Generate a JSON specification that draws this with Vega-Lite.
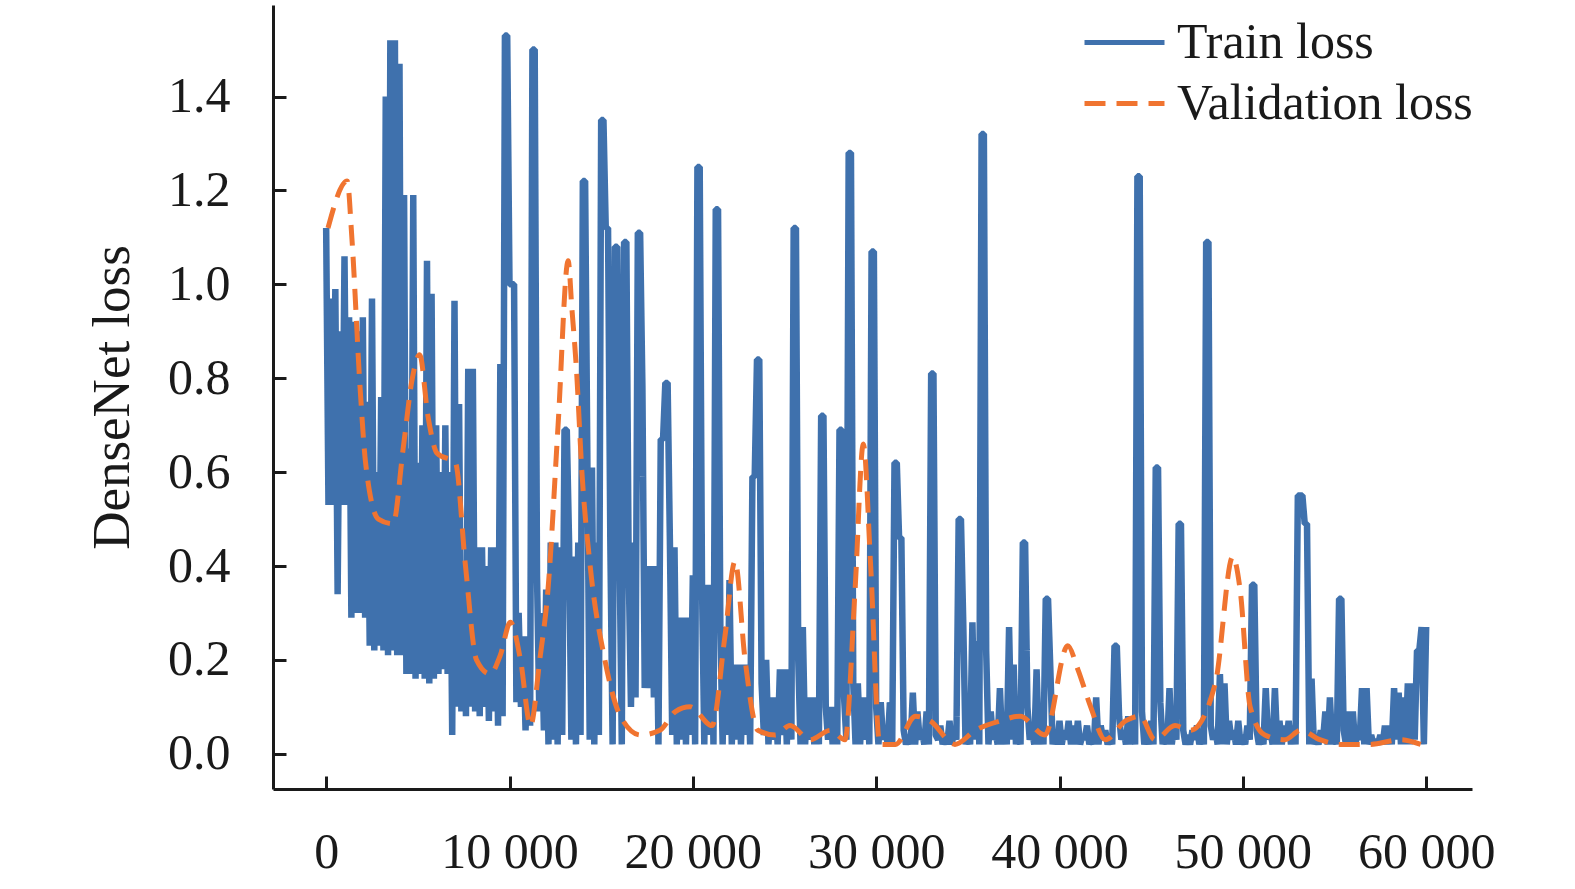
{
  "$schema": "https://vega.github.io/schema/vega-lite/v6.json",
  "description": "DenseNet train / validation loss against iteration",
  "autosize": "none",
  "width": 1199,
  "height": 784,
  "padding": {"left": 273, "top": 5, "right": 103, "bottom": 100},
  "background": "white",
  "data": {
    "values": [
      {"step":0,"loss":1.12,"series":"Train loss"},{"step":125,"loss":0.53,"series":"Train loss"},
      {"step":250,"loss":0.97,"series":"Train loss"},{"step":375,"loss":0.53,"series":"Train loss"},
      {"step":500,"loss":0.99,"series":"Train loss"},{"step":625,"loss":0.34,"series":"Train loss"},
      {"step":750,"loss":0.90,"series":"Train loss"},{"step":875,"loss":0.53,"series":"Train loss"},
      {"step":1000,"loss":1.06,"series":"Train loss"},{"step":1125,"loss":0.53,"series":"Train loss"},
      {"step":1250,"loss":0.93,"series":"Train loss"},{"step":1375,"loss":0.29,"series":"Train loss"},
      {"step":1500,"loss":0.92,"series":"Train loss"},{"step":1625,"loss":0.30,"series":"Train loss"},
      {"step":1750,"loss":0.90,"series":"Train loss"},{"step":1875,"loss":0.30,"series":"Train loss"},
      {"step":2000,"loss":0.93,"series":"Train loss"},{"step":2125,"loss":0.29,"series":"Train loss"},
      {"step":2250,"loss":0.75,"series":"Train loss"},{"step":2375,"loss":0.23,"series":"Train loss"},
      {"step":2500,"loss":0.97,"series":"Train loss"},{"step":2625,"loss":0.22,"series":"Train loss"},
      {"step":2750,"loss":0.60,"series":"Train loss"},{"step":2875,"loss":0.23,"series":"Train loss"},
      {"step":3000,"loss":0.76,"series":"Train loss"},{"step":3125,"loss":0.22,"series":"Train loss"},
      {"step":3250,"loss":1.40,"series":"Train loss"},{"step":3375,"loss":0.21,"series":"Train loss"},
      {"step":3500,"loss":1.52,"series":"Train loss"},{"step":3625,"loss":0.22,"series":"Train loss"},
      {"step":3750,"loss":1.52,"series":"Train loss"},{"step":3875,"loss":0.21,"series":"Train loss"},
      {"step":4000,"loss":1.47,"series":"Train loss"},{"step":4125,"loss":0.21,"series":"Train loss"},
      {"step":4250,"loss":1.19,"series":"Train loss"},{"step":4375,"loss":0.17,"series":"Train loss"},
      {"step":4500,"loss":0.65,"series":"Train loss"},{"step":4625,"loss":0.17,"series":"Train loss"},
      {"step":4750,"loss":1.19,"series":"Train loss"},{"step":4875,"loss":0.16,"series":"Train loss"},
      {"step":5000,"loss":0.62,"series":"Train loss"},{"step":5125,"loss":0.17,"series":"Train loss"},
      {"step":5250,"loss":0.70,"series":"Train loss"},{"step":5375,"loss":0.16,"series":"Train loss"},
      {"step":5500,"loss":1.05,"series":"Train loss"},{"step":5625,"loss":0.15,"series":"Train loss"},
      {"step":5750,"loss":0.98,"series":"Train loss"},{"step":5875,"loss":0.16,"series":"Train loss"},
      {"step":6000,"loss":0.70,"series":"Train loss"},{"step":6125,"loss":0.17,"series":"Train loss"},
      {"step":6250,"loss":0.60,"series":"Train loss"},{"step":6375,"loss":0.18,"series":"Train loss"},
      {"step":6500,"loss":0.70,"series":"Train loss"},{"step":6625,"loss":0.17,"series":"Train loss"},
      {"step":6750,"loss":0.60,"series":"Train loss"},{"step":6875,"loss":0.04,"series":"Train loss"},
      {"step":7000,"loss":0.965,"series":"Train loss"},{"step":7125,"loss":0.10,"series":"Train loss"},
      {"step":7250,"loss":0.745,"series":"Train loss"},{"step":7375,"loss":0.09,"series":"Train loss"},
      {"step":7500,"loss":0.40,"series":"Train loss"},{"step":7625,"loss":0.08,"series":"Train loss"},
      {"step":7750,"loss":0.82,"series":"Train loss"},{"step":7875,"loss":0.10,"series":"Train loss"},
      {"step":8000,"loss":0.82,"series":"Train loss"},{"step":8125,"loss":0.09,"series":"Train loss"},
      {"step":8250,"loss":0.44,"series":"Train loss"},{"step":8375,"loss":0.08,"series":"Train loss"},
      {"step":8500,"loss":0.44,"series":"Train loss"},{"step":8625,"loss":0.10,"series":"Train loss"},
      {"step":8750,"loss":0.40,"series":"Train loss"},{"step":8875,"loss":0.07,"series":"Train loss"},
      {"step":9000,"loss":0.44,"series":"Train loss"},{"step":9125,"loss":0.09,"series":"Train loss"},
      {"step":9250,"loss":0.44,"series":"Train loss"},{"step":9375,"loss":0.06,"series":"Train loss"},
      {"step":9500,"loss":0.83,"series":"Train loss"},{"step":9625,"loss":0.08,"series":"Train loss"},
      {"step":9750,"loss":1.53,"series":"Train loss"},{"step":9875,"loss":1.53,"series":"Train loss"},
      {"step":10000,"loss":1.00,"series":"Train loss"},{"step":10125,"loss":1.00,"series":"Train loss"},
      {"step":10250,"loss":1.00,"series":"Train loss"},{"step":10375,"loss":0.11,"series":"Train loss"},
      {"step":10500,"loss":0.30,"series":"Train loss"},{"step":10625,"loss":0.10,"series":"Train loss"},
      {"step":10750,"loss":0.25,"series":"Train loss"},{"step":10875,"loss":0.05,"series":"Train loss"},
      {"step":11000,"loss":0.25,"series":"Train loss"},{"step":11125,"loss":0.06,"series":"Train loss"},
      {"step":11250,"loss":1.50,"series":"Train loss"},{"step":11375,"loss":1.50,"series":"Train loss"},
      {"step":11500,"loss":0.38,"series":"Train loss"},{"step":11625,"loss":0.09,"series":"Train loss"},
      {"step":11750,"loss":0.30,"series":"Train loss"},{"step":11875,"loss":0.05,"series":"Train loss"},
      {"step":12000,"loss":0.35,"series":"Train loss"},{"step":12125,"loss":0.02,"series":"Train loss"},
      {"step":12250,"loss":0.45,"series":"Train loss"},{"step":12375,"loss":0.03,"series":"Train loss"},
      {"step":12500,"loss":0.45,"series":"Train loss"},{"step":12625,"loss":0.02,"series":"Train loss"},
      {"step":12750,"loss":0.44,"series":"Train loss"},{"step":12875,"loss":0.04,"series":"Train loss"},
      {"step":13000,"loss":0.69,"series":"Train loss"},{"step":13125,"loss":0.69,"series":"Train loss"},
      {"step":13250,"loss":0.45,"series":"Train loss"},{"step":13375,"loss":0.03,"series":"Train loss"},
      {"step":13500,"loss":0.42,"series":"Train loss"},{"step":13625,"loss":0.02,"series":"Train loss"},
      {"step":13750,"loss":0.45,"series":"Train loss"},{"step":13875,"loss":0.04,"series":"Train loss"},
      {"step":14000,"loss":1.22,"series":"Train loss"},{"step":14125,"loss":1.22,"series":"Train loss"},
      {"step":14250,"loss":0.61,"series":"Train loss"},{"step":14375,"loss":0.03,"series":"Train loss"},
      {"step":14500,"loss":0.61,"series":"Train loss"},{"step":14625,"loss":0.02,"series":"Train loss"},
      {"step":14750,"loss":0.45,"series":"Train loss"},{"step":14875,"loss":0.04,"series":"Train loss"},
      {"step":15000,"loss":1.35,"series":"Train loss"},{"step":15125,"loss":1.35,"series":"Train loss"},
      {"step":15250,"loss":1.12,"series":"Train loss"},{"step":15375,"loss":1.12,"series":"Train loss"},
      {"step":15500,"loss":0.45,"series":"Train loss"},{"step":15625,"loss":0.02,"series":"Train loss"},
      {"step":15750,"loss":1.08,"series":"Train loss"},{"step":15875,"loss":1.08,"series":"Train loss"},
      {"step":16000,"loss":0.44,"series":"Train loss"},{"step":16125,"loss":0.02,"series":"Train loss"},
      {"step":16250,"loss":1.09,"series":"Train loss"},{"step":16375,"loss":1.09,"series":"Train loss"},
      {"step":16500,"loss":0.40,"series":"Train loss"},{"step":16625,"loss":0.10,"series":"Train loss"},
      {"step":16750,"loss":0.45,"series":"Train loss"},{"step":16875,"loss":0.12,"series":"Train loss"},
      {"step":17000,"loss":1.11,"series":"Train loss"},{"step":17125,"loss":1.11,"series":"Train loss"},
      {"step":17250,"loss":0.78,"series":"Train loss"},{"step":17375,"loss":0.14,"series":"Train loss"},
      {"step":17500,"loss":0.40,"series":"Train loss"},{"step":17625,"loss":0.14,"series":"Train loss"},
      {"step":17750,"loss":0.40,"series":"Train loss"},{"step":17875,"loss":0.12,"series":"Train loss"},
      {"step":18000,"loss":0.40,"series":"Train loss"},{"step":18125,"loss":0.02,"series":"Train loss"},
      {"step":18250,"loss":0.67,"series":"Train loss"},{"step":18375,"loss":0.67,"series":"Train loss"},
      {"step":18500,"loss":0.79,"series":"Train loss"},{"step":18625,"loss":0.79,"series":"Train loss"},
      {"step":18750,"loss":0.45,"series":"Train loss"},{"step":18875,"loss":0.04,"series":"Train loss"},
      {"step":19000,"loss":0.44,"series":"Train loss"},{"step":19125,"loss":0.02,"series":"Train loss"},
      {"step":19250,"loss":0.29,"series":"Train loss"},{"step":19375,"loss":0.03,"series":"Train loss"},
      {"step":19500,"loss":0.29,"series":"Train loss"},{"step":19625,"loss":0.02,"series":"Train loss"},
      {"step":19750,"loss":0.29,"series":"Train loss"},{"step":19875,"loss":0.04,"series":"Train loss"},
      {"step":20000,"loss":0.38,"series":"Train loss"},{"step":20125,"loss":0.02,"series":"Train loss"},
      {"step":20250,"loss":1.25,"series":"Train loss"},{"step":20375,"loss":1.25,"series":"Train loss"},
      {"step":20500,"loss":0.36,"series":"Train loss"},{"step":20625,"loss":0.02,"series":"Train loss"},
      {"step":20750,"loss":0.36,"series":"Train loss"},{"step":20875,"loss":0.04,"series":"Train loss"},
      {"step":21000,"loss":0.36,"series":"Train loss"},{"step":21125,"loss":0.02,"series":"Train loss"},
      {"step":21250,"loss":1.16,"series":"Train loss"},{"step":21375,"loss":1.16,"series":"Train loss"},
      {"step":21500,"loss":0.27,"series":"Train loss"},{"step":21625,"loss":0.02,"series":"Train loss"},
      {"step":21750,"loss":0.27,"series":"Train loss"},{"step":21875,"loss":0.04,"series":"Train loss"},
      {"step":22000,"loss":0.37,"series":"Train loss"},{"step":22125,"loss":0.02,"series":"Train loss"},
      {"step":22250,"loss":0.19,"series":"Train loss"},{"step":22375,"loss":0.03,"series":"Train loss"},
      {"step":22500,"loss":0.19,"series":"Train loss"},{"step":22625,"loss":0.02,"series":"Train loss"},
      {"step":22750,"loss":0.19,"series":"Train loss"},{"step":22875,"loss":0.04,"series":"Train loss"},
      {"step":23000,"loss":0.19,"series":"Train loss"},{"step":23125,"loss":0.02,"series":"Train loss"},
      {"step":23250,"loss":0.59,"series":"Train loss"},{"step":23375,"loss":0.59,"series":"Train loss"},
      {"step":23500,"loss":0.84,"series":"Train loss"},{"step":23625,"loss":0.84,"series":"Train loss"},
      {"step":23750,"loss":0.15,"series":"Train loss"},{"step":23875,"loss":0.04,"series":"Train loss"},
      {"step":24000,"loss":0.20,"series":"Train loss"},{"step":24125,"loss":0.02,"series":"Train loss"},
      {"step":24250,"loss":0.12,"series":"Train loss"},{"step":24375,"loss":0.03,"series":"Train loss"},
      {"step":24500,"loss":0.12,"series":"Train loss"},{"step":24625,"loss":0.02,"series":"Train loss"},
      {"step":24750,"loss":0.18,"series":"Train loss"},{"step":24875,"loss":0.04,"series":"Train loss"},
      {"step":25000,"loss":0.18,"series":"Train loss"},{"step":25125,"loss":0.02,"series":"Train loss"},
      {"step":25250,"loss":0.18,"series":"Train loss"},{"step":25375,"loss":0.03,"series":"Train loss"},
      {"step":25500,"loss":1.12,"series":"Train loss"},{"step":25625,"loss":1.12,"series":"Train loss"},
      {"step":25750,"loss":0.20,"series":"Train loss"},{"step":25875,"loss":0.02,"series":"Train loss"},
      {"step":26000,"loss":0.27,"series":"Train loss"},{"step":26125,"loss":0.02,"series":"Train loss"},
      {"step":26250,"loss":0.12,"series":"Train loss"},{"step":26375,"loss":0.03,"series":"Train loss"},
      {"step":26500,"loss":0.12,"series":"Train loss"},{"step":26625,"loss":0.02,"series":"Train loss"},
      {"step":26750,"loss":0.12,"series":"Train loss"},{"step":26875,"loss":0.02,"series":"Train loss"},
      {"step":27000,"loss":0.72,"series":"Train loss"},{"step":27125,"loss":0.72,"series":"Train loss"},
      {"step":27250,"loss":0.10,"series":"Train loss"},{"step":27375,"loss":0.03,"series":"Train loss"},
      {"step":27500,"loss":0.10,"series":"Train loss"},{"step":27625,"loss":0.02,"series":"Train loss"},
      {"step":27750,"loss":0.10,"series":"Train loss"},{"step":27875,"loss":0.02,"series":"Train loss"},
      {"step":28000,"loss":0.69,"series":"Train loss"},{"step":28125,"loss":0.69,"series":"Train loss"},
      {"step":28250,"loss":0.12,"series":"Train loss"},{"step":28375,"loss":0.03,"series":"Train loss"},
      {"step":28500,"loss":1.28,"series":"Train loss"},{"step":28625,"loss":1.28,"series":"Train loss"},
      {"step":28750,"loss":0.15,"series":"Train loss"},{"step":28875,"loss":0.02,"series":"Train loss"},
      {"step":29000,"loss":0.15,"series":"Train loss"},{"step":29125,"loss":0.02,"series":"Train loss"},
      {"step":29250,"loss":0.12,"series":"Train loss"},{"step":29375,"loss":0.03,"series":"Train loss"},
      {"step":29500,"loss":0.12,"series":"Train loss"},{"step":29625,"loss":0.02,"series":"Train loss"},
      {"step":29750,"loss":1.07,"series":"Train loss"},{"step":29875,"loss":1.07,"series":"Train loss"},
      {"step":30000,"loss":0.10,"series":"Train loss"},{"step":30125,"loss":0.02,"series":"Train loss"},
      {"step":30250,"loss":0.11,"series":"Train loss"},{"step":30375,"loss":0.03,"series":"Train loss"},
      {"step":30500,"loss":0.06,"series":"Train loss"},{"step":30625,"loss":0.02,"series":"Train loss"},
      {"step":30750,"loss":0.11,"series":"Train loss"},{"step":30875,"loss":0.02,"series":"Train loss"},
      {"step":31000,"loss":0.62,"series":"Train loss"},{"step":31125,"loss":0.62,"series":"Train loss"},
      {"step":31250,"loss":0.46,"series":"Train loss"},{"step":31375,"loss":0.46,"series":"Train loss"},
      {"step":31500,"loss":0.05,"series":"Train loss"},{"step":31625,"loss":0.02,"series":"Train loss"},
      {"step":31750,"loss":0.04,"series":"Train loss"},{"step":31875,"loss":0.02,"series":"Train loss"},
      {"step":32000,"loss":0.13,"series":"Train loss"},{"step":32125,"loss":0.02,"series":"Train loss"},
      {"step":32250,"loss":0.09,"series":"Train loss"},{"step":32375,"loss":0.03,"series":"Train loss"},
      {"step":32500,"loss":0.05,"series":"Train loss"},{"step":32625,"loss":0.02,"series":"Train loss"},
      {"step":32750,"loss":0.09,"series":"Train loss"},{"step":32875,"loss":0.02,"series":"Train loss"},
      {"step":33000,"loss":0.81,"series":"Train loss"},{"step":33125,"loss":0.81,"series":"Train loss"},
      {"step":33250,"loss":0.04,"series":"Train loss"},{"step":33375,"loss":0.03,"series":"Train loss"},
      {"step":33500,"loss":0.06,"series":"Train loss"},{"step":33625,"loss":0.02,"series":"Train loss"},
      {"step":33750,"loss":0.04,"series":"Train loss"},{"step":33875,"loss":0.02,"series":"Train loss"},
      {"step":34000,"loss":0.07,"series":"Train loss"},{"step":34125,"loss":0.02,"series":"Train loss"},
      {"step":34250,"loss":0.05,"series":"Train loss"},{"step":34375,"loss":0.03,"series":"Train loss"},
      {"step":34500,"loss":0.50,"series":"Train loss"},{"step":34625,"loss":0.50,"series":"Train loss"},
      {"step":34750,"loss":0.28,"series":"Train loss"},{"step":34875,"loss":0.02,"series":"Train loss"},
      {"step":35000,"loss":0.05,"series":"Train loss"},{"step":35125,"loss":0.02,"series":"Train loss"},
      {"step":35250,"loss":0.28,"series":"Train loss"},{"step":35375,"loss":0.03,"series":"Train loss"},
      {"step":35500,"loss":0.24,"series":"Train loss"},{"step":35625,"loss":0.02,"series":"Train loss"},
      {"step":35750,"loss":1.32,"series":"Train loss"},{"step":35875,"loss":1.32,"series":"Train loss"},
      {"step":36000,"loss":0.22,"series":"Train loss"},{"step":36125,"loss":0.02,"series":"Train loss"},
      {"step":36250,"loss":0.09,"series":"Train loss"},{"step":36375,"loss":0.03,"series":"Train loss"},
      {"step":36500,"loss":0.05,"series":"Train loss"},{"step":36625,"loss":0.02,"series":"Train loss"},
      {"step":36750,"loss":0.14,"series":"Train loss"},{"step":36875,"loss":0.02,"series":"Train loss"},
      {"step":37000,"loss":0.06,"series":"Train loss"},{"step":37125,"loss":0.02,"series":"Train loss"},
      {"step":37250,"loss":0.27,"series":"Train loss"},{"step":37375,"loss":0.03,"series":"Train loss"},
      {"step":37500,"loss":0.19,"series":"Train loss"},{"step":37625,"loss":0.02,"series":"Train loss"},
      {"step":37750,"loss":0.05,"series":"Train loss"},{"step":37875,"loss":0.02,"series":"Train loss"},
      {"step":38000,"loss":0.45,"series":"Train loss"},{"step":38125,"loss":0.45,"series":"Train loss"},
      {"step":38250,"loss":0.10,"series":"Train loss"},{"step":38375,"loss":0.03,"series":"Train loss"},
      {"step":38500,"loss":0.05,"series":"Train loss"},{"step":38625,"loss":0.02,"series":"Train loss"},
      {"step":38750,"loss":0.18,"series":"Train loss"},{"step":38875,"loss":0.02,"series":"Train loss"},
      {"step":39000,"loss":0.07,"series":"Train loss"},{"step":39125,"loss":0.02,"series":"Train loss"},
      {"step":39250,"loss":0.33,"series":"Train loss"},{"step":39375,"loss":0.33,"series":"Train loss"},
      {"step":39500,"loss":0.18,"series":"Train loss"},{"step":39625,"loss":0.02,"series":"Train loss"},
      {"step":39750,"loss":0.05,"series":"Train loss"},{"step":39875,"loss":0.02,"series":"Train loss"},
      {"step":40000,"loss":0.07,"series":"Train loss"},{"step":40125,"loss":0.02,"series":"Train loss"},
      {"step":40250,"loss":0.05,"series":"Train loss"},{"step":40375,"loss":0.03,"series":"Train loss"},
      {"step":40500,"loss":0.07,"series":"Train loss"},{"step":40625,"loss":0.02,"series":"Train loss"},
      {"step":40750,"loss":0.06,"series":"Train loss"},{"step":40875,"loss":0.02,"series":"Train loss"},
      {"step":41000,"loss":0.07,"series":"Train loss"},{"step":41125,"loss":0.02,"series":"Train loss"},
      {"step":41250,"loss":0.04,"series":"Train loss"},{"step":41375,"loss":0.03,"series":"Train loss"},
      {"step":41500,"loss":0.06,"series":"Train loss"},{"step":41625,"loss":0.02,"series":"Train loss"},
      {"step":41750,"loss":0.04,"series":"Train loss"},{"step":41875,"loss":0.02,"series":"Train loss"},
      {"step":42000,"loss":0.12,"series":"Train loss"},{"step":42125,"loss":0.02,"series":"Train loss"},
      {"step":42250,"loss":0.06,"series":"Train loss"},{"step":42375,"loss":0.03,"series":"Train loss"},
      {"step":42500,"loss":0.05,"series":"Train loss"},{"step":42625,"loss":0.02,"series":"Train loss"},
      {"step":42750,"loss":0.04,"series":"Train loss"},{"step":42875,"loss":0.02,"series":"Train loss"},
      {"step":43000,"loss":0.23,"series":"Train loss"},{"step":43125,"loss":0.23,"series":"Train loss"},
      {"step":43250,"loss":0.08,"series":"Train loss"},{"step":43375,"loss":0.03,"series":"Train loss"},
      {"step":43500,"loss":0.05,"series":"Train loss"},{"step":43625,"loss":0.02,"series":"Train loss"},
      {"step":43750,"loss":0.08,"series":"Train loss"},{"step":43875,"loss":0.02,"series":"Train loss"},
      {"step":44000,"loss":0.06,"series":"Train loss"},{"step":44125,"loss":0.02,"series":"Train loss"},
      {"step":44250,"loss":1.23,"series":"Train loss"},{"step":44375,"loss":1.23,"series":"Train loss"},
      {"step":44500,"loss":0.09,"series":"Train loss"},{"step":44625,"loss":0.02,"series":"Train loss"},
      {"step":44750,"loss":0.05,"series":"Train loss"},{"step":44875,"loss":0.02,"series":"Train loss"},
      {"step":45000,"loss":0.07,"series":"Train loss"},{"step":45125,"loss":0.02,"series":"Train loss"},
      {"step":45250,"loss":0.61,"series":"Train loss"},{"step":45375,"loss":0.61,"series":"Train loss"},
      {"step":45500,"loss":0.11,"series":"Train loss"},{"step":45625,"loss":0.02,"series":"Train loss"},
      {"step":45750,"loss":0.05,"series":"Train loss"},{"step":45875,"loss":0.02,"series":"Train loss"},
      {"step":46000,"loss":0.14,"series":"Train loss"},{"step":46125,"loss":0.02,"series":"Train loss"},
      {"step":46250,"loss":0.06,"series":"Train loss"},{"step":46375,"loss":0.03,"series":"Train loss"},
      {"step":46500,"loss":0.49,"series":"Train loss"},{"step":46625,"loss":0.49,"series":"Train loss"},
      {"step":46750,"loss":0.05,"series":"Train loss"},{"step":46875,"loss":0.02,"series":"Train loss"},
      {"step":47000,"loss":0.04,"series":"Train loss"},{"step":47125,"loss":0.02,"series":"Train loss"},
      {"step":47250,"loss":0.05,"series":"Train loss"},{"step":47375,"loss":0.03,"series":"Train loss"},
      {"step":47500,"loss":0.06,"series":"Train loss"},{"step":47625,"loss":0.02,"series":"Train loss"},
      {"step":47750,"loss":0.05,"series":"Train loss"},{"step":47875,"loss":0.02,"series":"Train loss"},
      {"step":48000,"loss":1.09,"series":"Train loss"},{"step":48125,"loss":1.09,"series":"Train loss"},
      {"step":48250,"loss":0.06,"series":"Train loss"},{"step":48375,"loss":0.03,"series":"Train loss"},
      {"step":48500,"loss":0.05,"series":"Train loss"},{"step":48625,"loss":0.02,"series":"Train loss"},
      {"step":48750,"loss":0.17,"series":"Train loss"},{"step":48875,"loss":0.02,"series":"Train loss"},
      {"step":49000,"loss":0.15,"series":"Train loss"},{"step":49125,"loss":0.02,"series":"Train loss"},
      {"step":49250,"loss":0.07,"series":"Train loss"},{"step":49375,"loss":0.03,"series":"Train loss"},
      {"step":49500,"loss":0.05,"series":"Train loss"},{"step":49625,"loss":0.02,"series":"Train loss"},
      {"step":49750,"loss":0.07,"series":"Train loss"},{"step":49875,"loss":0.02,"series":"Train loss"},
      {"step":50000,"loss":0.04,"series":"Train loss"},{"step":50125,"loss":0.02,"series":"Train loss"},
      {"step":50250,"loss":0.06,"series":"Train loss"},{"step":50375,"loss":0.03,"series":"Train loss"},
      {"step":50500,"loss":0.36,"series":"Train loss"},{"step":50625,"loss":0.36,"series":"Train loss"},
      {"step":50750,"loss":0.05,"series":"Train loss"},{"step":50875,"loss":0.02,"series":"Train loss"},
      {"step":51000,"loss":0.04,"series":"Train loss"},{"step":51125,"loss":0.02,"series":"Train loss"},
      {"step":51250,"loss":0.14,"series":"Train loss"},{"step":51375,"loss":0.03,"series":"Train loss"},
      {"step":51500,"loss":0.05,"series":"Train loss"},{"step":51625,"loss":0.02,"series":"Train loss"},
      {"step":51750,"loss":0.14,"series":"Train loss"},{"step":51875,"loss":0.02,"series":"Train loss"},
      {"step":52000,"loss":0.07,"series":"Train loss"},{"step":52125,"loss":0.02,"series":"Train loss"},
      {"step":52250,"loss":0.06,"series":"Train loss"},{"step":52375,"loss":0.03,"series":"Train loss"},
      {"step":52500,"loss":0.07,"series":"Train loss"},{"step":52625,"loss":0.02,"series":"Train loss"},
      {"step":52750,"loss":0.06,"series":"Train loss"},{"step":52875,"loss":0.02,"series":"Train loss"},
      {"step":53000,"loss":0.55,"series":"Train loss"},{"step":53125,"loss":0.55,"series":"Train loss"},
      {"step":53250,"loss":0.55,"series":"Train loss"},{"step":53375,"loss":0.49,"series":"Train loss"},
      {"step":53500,"loss":0.49,"series":"Train loss"},{"step":53625,"loss":0.02,"series":"Train loss"},
      {"step":53750,"loss":0.16,"series":"Train loss"},{"step":53875,"loss":0.02,"series":"Train loss"},
      {"step":54000,"loss":0.04,"series":"Train loss"},{"step":54125,"loss":0.02,"series":"Train loss"},
      {"step":54250,"loss":0.05,"series":"Train loss"},{"step":54375,"loss":0.03,"series":"Train loss"},
      {"step":54500,"loss":0.09,"series":"Train loss"},{"step":54625,"loss":0.02,"series":"Train loss"},
      {"step":54750,"loss":0.12,"series":"Train loss"},{"step":54875,"loss":0.02,"series":"Train loss"},
      {"step":55000,"loss":0.05,"series":"Train loss"},{"step":55125,"loss":0.02,"series":"Train loss"},
      {"step":55250,"loss":0.33,"series":"Train loss"},{"step":55375,"loss":0.33,"series":"Train loss"},
      {"step":55500,"loss":0.05,"series":"Train loss"},{"step":55625,"loss":0.02,"series":"Train loss"},
      {"step":55750,"loss":0.09,"series":"Train loss"},{"step":55875,"loss":0.02,"series":"Train loss"},
      {"step":56000,"loss":0.09,"series":"Train loss"},{"step":56125,"loss":0.02,"series":"Train loss"},
      {"step":56250,"loss":0.04,"series":"Train loss"},{"step":56375,"loss":0.03,"series":"Train loss"},
      {"step":56500,"loss":0.14,"series":"Train loss"},{"step":56625,"loss":0.02,"series":"Train loss"},
      {"step":56750,"loss":0.14,"series":"Train loss"},{"step":56875,"loss":0.02,"series":"Train loss"},
      {"step":57000,"loss":0.04,"series":"Train loss"},{"step":57125,"loss":0.02,"series":"Train loss"},
      {"step":57250,"loss":0.03,"series":"Train loss"},{"step":57375,"loss":0.02,"series":"Train loss"},
      {"step":57500,"loss":0.04,"series":"Train loss"},{"step":57625,"loss":0.02,"series":"Train loss"},
      {"step":57750,"loss":0.06,"series":"Train loss"},{"step":57875,"loss":0.02,"series":"Train loss"},
      {"step":58000,"loss":0.06,"series":"Train loss"},{"step":58125,"loss":0.02,"series":"Train loss"},
      {"step":58250,"loss":0.14,"series":"Train loss"},{"step":58375,"loss":0.03,"series":"Train loss"},
      {"step":58500,"loss":0.13,"series":"Train loss"},{"step":58625,"loss":0.02,"series":"Train loss"},
      {"step":58750,"loss":0.12,"series":"Train loss"},{"step":58875,"loss":0.02,"series":"Train loss"},
      {"step":59000,"loss":0.15,"series":"Train loss"},{"step":59125,"loss":0.02,"series":"Train loss"},
      {"step":59250,"loss":0.15,"series":"Train loss"},{"step":59375,"loss":0.03,"series":"Train loss"},
      {"step":59500,"loss":0.22,"series":"Train loss"},{"step":59625,"loss":0.22,"series":"Train loss"},
      {"step":59750,"loss":0.27,"series":"Train loss"},{"step":59875,"loss":0.02,"series":"Train loss"},
      {"step":60000,"loss":0.27,"series":"Train loss"},
      {"step":100,"loss":1.12,"series":"Validation loss"},
      {"step":1150,"loss":1.22,"series":"Validation loss"},
      {"step":1400,"loss":1.10,"series":"Validation loss"},
      {"step":1850,"loss":0.78,"series":"Validation loss"},
      {"step":2150,"loss":0.62,"series":"Validation loss"},
      {"step":2850,"loss":0.50,"series":"Validation loss"},
      {"step":3650,"loss":0.49,"series":"Validation loss"},
      {"step":4200,"loss":0.65,"series":"Validation loss"},
      {"step":4700,"loss":0.80,"series":"Validation loss"},
      {"step":5100,"loss":0.85,"series":"Validation loss"},
      {"step":5550,"loss":0.72,"series":"Validation loss"},
      {"step":6050,"loss":0.64,"series":"Validation loss"},
      {"step":7050,"loss":0.62,"series":"Validation loss"},
      {"step":7600,"loss":0.40,"series":"Validation loss"},
      {"step":8200,"loss":0.20,"series":"Validation loss"},
      {"step":8950,"loss":0.17,"series":"Validation loss"},
      {"step":9500,"loss":0.21,"series":"Validation loss"},
      {"step":10050,"loss":0.28,"series":"Validation loss"},
      {"step":10600,"loss":0.20,"series":"Validation loss"},
      {"step":11150,"loss":0.06,"series":"Validation loss"},
      {"step":11650,"loss":0.20,"series":"Validation loss"},
      {"step":12100,"loss":0.35,"series":"Validation loss"},
      {"step":12650,"loss":0.70,"series":"Validation loss"},
      {"step":13200,"loss":1.05,"series":"Validation loss"},
      {"step":13400,"loss":0.95,"series":"Validation loss"},
      {"step":13650,"loss":0.82,"series":"Validation loss"},
      {"step":13950,"loss":0.60,"series":"Validation loss"},
      {"step":14400,"loss":0.40,"series":"Validation loss"},
      {"step":15200,"loss":0.20,"series":"Validation loss"},
      {"step":16050,"loss":0.08,"series":"Validation loss"},
      {"step":17150,"loss":0.04,"series":"Validation loss"},
      {"step":18200,"loss":0.05,"series":"Validation loss"},
      {"step":19050,"loss":0.09,"series":"Validation loss"},
      {"step":19850,"loss":0.10,"series":"Validation loss"},
      {"step":21050,"loss":0.06,"series":"Validation loss"},
      {"step":21750,"loss":0.25,"series":"Validation loss"},
      {"step":22300,"loss":0.41,"series":"Validation loss"},
      {"step":22850,"loss":0.20,"series":"Validation loss"},
      {"step":23550,"loss":0.05,"series":"Validation loss"},
      {"step":24500,"loss":0.04,"series":"Validation loss"},
      {"step":25300,"loss":0.06,"series":"Validation loss"},
      {"step":26400,"loss":0.03,"series":"Validation loss"},
      {"step":27500,"loss":0.05,"series":"Validation loss"},
      {"step":28300,"loss":0.03,"series":"Validation loss"},
      {"step":28850,"loss":0.35,"series":"Validation loss"},
      {"step":29300,"loss":0.66,"series":"Validation loss"},
      {"step":29700,"loss":0.40,"series":"Validation loss"},
      {"step":30200,"loss":0.02,"series":"Validation loss"},
      {"step":31050,"loss":0.02,"series":"Validation loss"},
      {"step":32150,"loss":0.08,"series":"Validation loss"},
      {"step":32950,"loss":0.07,"series":"Validation loss"},
      {"step":34300,"loss":0.02,"series":"Validation loss"},
      {"step":35400,"loss":0.05,"series":"Validation loss"},
      {"step":36750,"loss":0.07,"series":"Validation loss"},
      {"step":37850,"loss":0.08,"series":"Validation loss"},
      {"step":39200,"loss":0.04,"series":"Validation loss"},
      {"step":40450,"loss":0.23,"series":"Validation loss"},
      {"step":41000,"loss":0.18,"series":"Validation loss"},
      {"step":41700,"loss":0.10,"series":"Validation loss"},
      {"step":42500,"loss":0.03,"series":"Validation loss"},
      {"step":43600,"loss":0.07,"series":"Validation loss"},
      {"step":44400,"loss":0.08,"series":"Validation loss"},
      {"step":45200,"loss":0.03,"series":"Validation loss"},
      {"step":46300,"loss":0.06,"series":"Validation loss"},
      {"step":47150,"loss":0.05,"series":"Validation loss"},
      {"step":48500,"loss":0.15,"series":"Validation loss"},
      {"step":49450,"loss":0.42,"series":"Validation loss"},
      {"step":49850,"loss":0.35,"series":"Validation loss"},
      {"step":50400,"loss":0.10,"series":"Validation loss"},
      {"step":51200,"loss":0.04,"series":"Validation loss"},
      {"step":52300,"loss":0.03,"series":"Validation loss"},
      {"step":53150,"loss":0.05,"series":"Validation loss"},
      {"step":54200,"loss":0.03,"series":"Validation loss"},
      {"step":55300,"loss":0.02,"series":"Validation loss"},
      {"step":56950,"loss":0.02,"series":"Validation loss"},
      {"step":58600,"loss":0.03,"series":"Validation loss"},
      {"step":59700,"loss":0.02,"series":"Validation loss"}
    ]
  },
  "encoding": {
    "x": {
      "field": "step",
      "type": "quantitative",
      "scale": {"domain": [-2900, 62500], "nice": false, "zero": false},
      "axis": {
        "title": null,
        "values": [0, 10000, 20000, 30000, 40000, 50000, 60000],
        "labelExpr": "replace(format(datum.value, ','), ',', ' ')",
        "tickSize": -13,
        "labelPadding": 51
      }
    },
    "y": {
      "field": "loss",
      "type": "quantitative",
      "scale": {"domain": [-0.075, 1.595], "nice": false, "zero": false},
      "axis": {
        "title": "DenseNet loss",
        "values": [0, 0.2, 0.4, 0.6, 0.8, 1.0, 1.2, 1.4],
        "format": ".1f",
        "tickSize": -13,
        "labelPadding": 56,
        "titlePadding": 28
      }
    },
    "color": {
      "field": "series",
      "type": "nominal",
      "scale": {"domain": ["Train loss", "Validation loss"], "range": ["#3f71ad", "#f07430"]},
      "legend": {"title": null}
    },
    "strokeDash": {
      "field": "series",
      "type": "nominal",
      "scale": {"domain": ["Train loss", "Validation loss"], "range": [[1, 0], [21, 11]]},
      "legend": {"title": null}
    }
  },
  "layer": [
    {
      "transform": [{"filter": "datum.series === 'Train loss'"}],
      "mark": {"type": "line", "strokeWidth": 6.5, "strokeJoin": "bevel"}
    },
    {
      "transform": [{"filter": "datum.series === 'Validation loss'"}],
      "mark": {"type": "line", "interpolate": "monotone", "strokeWidth": 5}
    }
  ],
  "config": {
    "view": {"stroke": null},
    "font": "Liberation Serif",
    "axis": {
      "grid": false,
      "domainColor": "#1a1a1a",
      "domainWidth": 3,
      "tickColor": "#1a1a1a",
      "tickWidth": 3,
      "labelFont": "Liberation Serif",
      "labelFontSize": 50,
      "labelColor": "#1a1a1a",
      "titleFont": "Liberation Serif",
      "titleFontSize": 53,
      "titleFontWeight": "normal",
      "titleColor": "#1a1a1a"
    },
    "legend": {
      "orient": "none",
      "legendX": 809,
      "legendY": 7,
      "symbolType": "stroke",
      "symbolSize": 6400,
      "symbolStrokeWidth": 5,
      "labelFont": "Liberation Serif",
      "labelFontSize": 50,
      "labelColor": "#1a1a1a",
      "labelLimit": 0,
      "labelOffset": 10,
      "clipHeight": 61,
      "rowPadding": 0
    }
  }
}
